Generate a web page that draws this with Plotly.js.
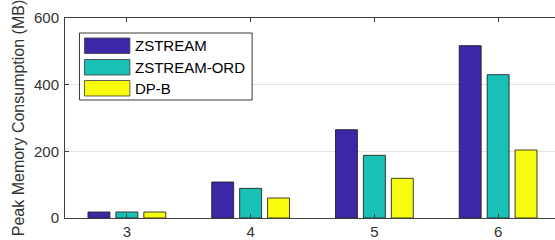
<!DOCTYPE html>
<html>
<head>
<meta charset="utf-8">
<script src="https://cdn.plot.ly/plotly-3.0.1.min.js"></script>
<style>
html,body{margin:0;padding:0;overflow:hidden;background:#fff;width:555px;height:240px;}
#chart{width:562px;height:240px;}
</style>
</head>
<body>
<div id="chart"></div>
<script>
const categories = [3, 4, 5, 6];
const seriesNames = ['ZSTREAM', 'ZSTREAM-ORD', 'DP-B'];
const zstream = [18, 108, 265, 517];
const zstreamOrd = [18, 89, 188, 430];
const dpB = [18, 60, 119, 204];
const yTicks = [0, 200, 400, 600];
const colors = ['#3E26A8', '#19C0B5', '#F9FB0E'];

const W = 562, H = 240;
const M = {l: 64.5, r: 1.5, t: 18, b: 22};
const pw = W - M.l - M.r, ph = H - M.t - M.b;
const px = x => (x - M.l) / pw;
const py = y => (H - M.b - y) / ph;

const font = {family: '"Liberation Sans", Arial, sans-serif', size: 15, color: '#262626'};

const values = [zstream, zstreamOrd, dpB];
const traces = values.map((v, i) => ({
  type: 'bar',
  x: categories,
  y: v,
  name: seriesNames[i],
  marker: {color: colors[i], line: {color: 'rgba(30,30,30,0.85)', width: 1}},
  showlegend: false,
  hoverinfo: 'x+y+name'
}));

// custom legend (large swatches like the original)
const shapes = [{
  type: 'rect', xref: 'paper', yref: 'paper',
  x0: px(79), x1: px(252), y0: py(100), y1: py(33),
  line: {color: '#3a3a3a', width: 1}, fillcolor: '#ffffff', layer: 'above'
}];
const annotations = [];
const swY = [[38, 53.5], [59.5, 75], [80.5, 96]];
seriesNames.forEach((n, i) => {
  shapes.push({
    type: 'rect', xref: 'paper', yref: 'paper',
    x0: px(84), x1: px(129.5), y0: py(swY[i][1]), y1: py(swY[i][0]),
    line: {color: 'rgba(60,60,60,0.8)', width: 1}, fillcolor: colors[i], layer: 'above'
  });
  annotations.push({
    xref: 'paper', yref: 'paper', x: px(132.5), y: py((swY[i][0] + swY[i][1]) / 2),
    xanchor: 'left', yanchor: 'middle', text: n, showarrow: false,
    font: {family: font.family, size: 15, color: '#000'}
  });
});

const layout = {
  width: W, height: H,
  margin: M,
  paper_bgcolor: '#fff', plot_bgcolor: '#fff',
  font: font,
  barmode: 'group',
  bargap: 0.323,
  bargroupgap: 0.214,
  showlegend: false,
  xaxis: {
    range: [2.5, 6.5],
    tickvals: categories,
    ticktext: categories.map(String),
    showline: true, linecolor: '#404040', linewidth: 1,
    mirror: 'ticks', ticks: 'inside', ticklen: 4, tickcolor: '#404040',
    showgrid: false, zeroline: false,
    tickfont: {family: font.family, size: 15, color: '#333'}
  },
  yaxis: {
    range: [0, 600],
    tickvals: yTicks,
    ticktext: yTicks.map(String),
    showline: true, linecolor: '#404040', linewidth: 1,
    mirror: true, ticks: 'inside', ticklen: 4, tickcolor: '#404040',
    showgrid: true, gridcolor: '#e4e4e4', gridwidth: 1,
    zeroline: false,
    ticklabelstandoff: 2,
    tickfont: {family: font.family, size: 15, color: '#333'},
    title: {text: 'Peak Memory Consumption (MB)', standoff: 5,
            font: {family: font.family, size: 16, color: '#333'}}
  },
  shapes: shapes,
  annotations: annotations
};

Plotly.newPlot('chart', traces, layout, {staticPlot: true, displayModeBar: false});
</script>
</body>
</html>
